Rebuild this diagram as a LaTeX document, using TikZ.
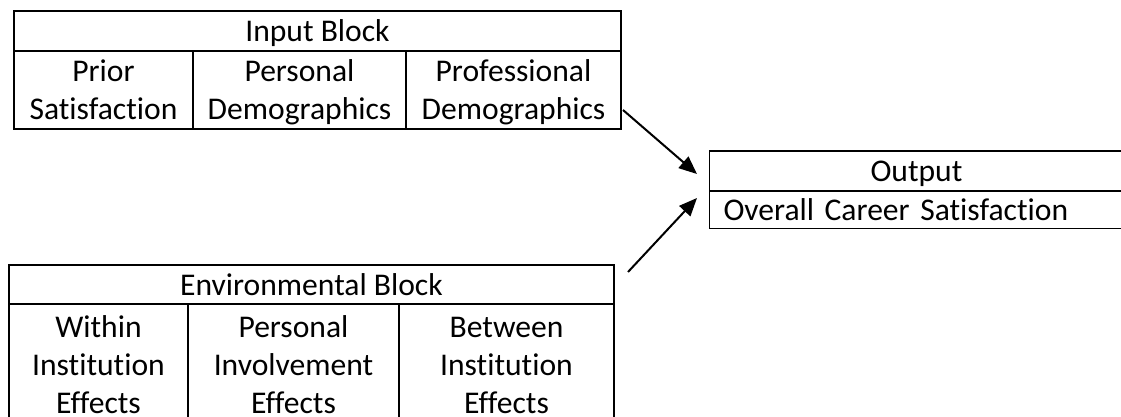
\documentclass[tikz,border=0pt]{standalone}
\usepackage{fontspec}
\setmainfont{Carlito}[Ligatures=NoCommon]
\usetikzlibrary{arrows.meta}
\newcommand\cellstrut{\rule[-4pt]{0pt}{19pt}}
\tikzset{
  cell/.style={draw, line width=0.9pt, inner sep=0pt, align=center,
               font=\fontsize{15.8}{19}\selectfont,
               execute at end node=\cellstrut},
  feed/.style={line width=1pt, -{Triangle[length=9pt,width=7.5pt]}}
}

\begin{document}
\begin{tikzpicture}[x=0.5pt,y=-0.5pt]
  \useasboundingbox (0,0) rectangle (1121,417);

  \node[cell,minimum width=303.5pt,minimum height=20pt] (inhead) at (317.5,31) {\cellstrut Input Block};
  \node[cell,minimum width=89.5pt,minimum height=39pt] (inprior) at (103.5,90) {\cellstrut Prior\\Satisfaction};
  \node[cell,minimum width=106.5pt,minimum height=39pt] (inpers) at (299.5,90) {\cellstrut Personal\\Demographics};
  \node[cell,minimum width=107.5pt,minimum height=39pt] (inprof) at (513.5,90) {\cellstrut Professional\\Demographics};

  \node[cell,minimum width=302.5pt,minimum height=19.5pt] (envhead) at (311.5,284.5) {\cellstrut Environmental Block};
  \node[cell,minimum width=89.5pt,minimum height=60pt] (envwithin) at (98.5,364) {\cellstrut Within\\Institution\\Effects};
  \node[cell,minimum width=105.5pt,minimum height=60pt] (envinvolve) at (293.5,364) {\cellstrut Personal\\Involvement\\Effects};
  \node[cell,minimum width=107.5pt,minimum height=60pt] (envbetween) at (506.5,364) {\cellstrut Between\\Institution\\Effects};

  \node[cell,minimum width=207pt,minimum height=20pt] (outhead) at (916.5,171) {\cellstrut Output};
  \node[cell,align=left,text width=193pt,inner xsep=7pt,minimum height=18.5pt] (outrow) at (916.5,209.5) {\cellstrut Overall Career Satisfaction};

  \coordinate (fromin) at (623,110);
  \coordinate (fromenv) at (628,272);
  \coordinate (toouttop) at (697,174);
  \coordinate (tooutlow) at (697,198);

  \draw[feed] (fromin) -- (toouttop);
  \draw[feed] (fromenv) -- (tooutlow);
\end{tikzpicture}
\end{document}
